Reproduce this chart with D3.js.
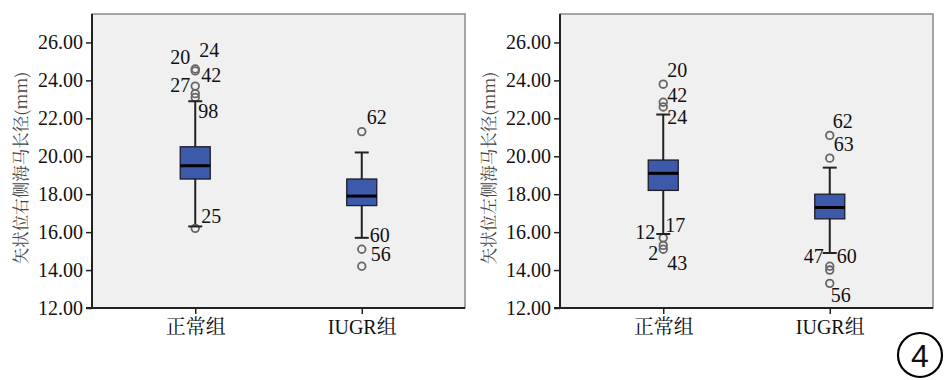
<!DOCTYPE html>
<html>
<head>
<meta charset="utf-8">
<script src="https://cdnjs.cloudflare.com/ajax/libs/d3/7.8.5/d3.min.js"></script>
<style>
  body { margin: 0; background: #fff; }
  svg text { fill: #111; }
</style>
</head>
<body>
<script>
// categories and axis ticks
var groups = ["正常组", "IUGR组"];
var yTicks = [12, 14, 16, 18, 20, 22, 24, 26];

// left chart: right-side hippocampus
var rightLow = [16.3, 15.7];
var rightQ1 = [18.8, 17.4];
var rightMedian = [19.5, 17.9];
var rightQ3 = [20.5, 18.8];
var rightHigh = [22.9, 20.2];
var rightOutliers = [[24.6, 24.5, 23.7, 23.3, 23.1, 16.2], [21.3, 15.1, 14.2]];
var rightLabels = [
  [["20", 24.6], ["24", 24.6], ["42", 24.5], ["27", 23.7], ["98", 23.1], ["25", 16.2]],
  [["62", 21.3], ["60", 15.7], ["56", 15.1]]
];

// right chart: left-side hippocampus
var leftLow = [15.9, 14.9];
var leftQ1 = [18.2, 16.7];
var leftMedian = [19.1, 17.3];
var leftQ3 = [19.8, 18.0];
var leftHigh = [22.2, 19.4];
var leftOutliers = [[23.8, 22.85, 22.6, 15.7, 15.3, 15.1], [21.1, 19.9, 14.2, 14.0, 13.3]];
var leftLabels = [
  [["20", 23.8], ["42", 22.85], ["24", 22.6], ["12", 15.7], ["17", 15.7], ["2", 15.3], ["43", 15.1]],
  [["62", 21.1], ["63", 19.9], ["47", 14.9], ["60", 14.9], ["56", 13.3]]
];

// where the case numbers sit relative to their point (px)
var rightLabelOffsets = [
  [[-15, -12], [14, -19], [16, 4], [-15, -1], [13, 14], [16, -12]],
  [[15, -15], [18, -3], [19, 5]]
];
var leftLabelOffsets = [
  [[14, -14], [14, -7], [14, 10], [-18, -6], [12, -13], [-10, 8], [14, 14]],
  [[13, -14], [14, -14], [-16, 3], [17, 3], [11, 12]]
];

var svgWidth = 945, svgHeight = 380;
var plotWidth = 373, plotTop = 14, plotBottom = 308;

var svg = d3.select("body").append("svg")
  .attr("width", svgWidth)
  .attr("height", svgHeight);

var serif = "'Liberation Serif', 'Times New Roman', serif";
var cjkSerif = "'Liberation Serif', 'Noto Serif CJK SC', 'Noto Sans CJK SC', serif";

function drawPanel(left, title, low, q1, med, q3, high, outliers, labels, offsets) {
  var g = svg.append("g").attr("transform", `translate(${left}, 0)`);

  var x = d3.scalePoint().domain(groups).range([0, plotWidth]).padding(0.62);
  var y = d3.scaleLinear().domain([12, 27.5]).range([plotBottom, plotTop]);

  // panel background + light frame
  g.append("rect")
    .attr("x", 0).attr("y", plotTop)
    .attr("width", plotWidth).attr("height", plotBottom - plotTop)
    .attr("fill", "#f0f0f0")
    .attr("stroke", "#8a8a8a")
    .attr("stroke-width", 1.5);

  // axes
  var yAxis = g.append("g")
    .call(d3.axisLeft(y).tickValues(yTicks).tickSize(6).tickSizeOuter(0).tickPadding(3)
      .tickFormat(d3.format(".2f")));
  yAxis.select(".domain").attr("stroke", "#222").attr("stroke-width", 2)
    .attr("d", `M0,${plotTop}V${plotBottom}`);
  yAxis.selectAll(".tick line").attr("stroke", "#222").attr("stroke-width", 1.5);
  yAxis.selectAll(".tick text")
    .style("font-family", serif)
    .style("font-size", "20px").attr("fill", "#111");

  var xAxis = g.append("g")
    .attr("transform", `translate(0, ${plotBottom})`)
    .call(d3.axisBottom(x).tickSize(6).tickSizeOuter(0).tickPadding(6));
  xAxis.select(".domain").attr("stroke", "#222").attr("stroke-width", 2)
    .attr("d", `M-6,0H${plotWidth}`);
  xAxis.selectAll(".tick line").attr("stroke", "#222").attr("stroke-width", 1.5);
  xAxis.selectAll(".tick text")
    .style("font-family", cjkSerif)
    .style("font-size", "20px").attr("fill", "#222");

  // y title
  g.append("text")
    .attr("transform", `translate(${-71}, 168) rotate(-90)`)
    .attr("text-anchor", "middle")
    .attr("dy", "0.35em")
    .style("font-family", "'Noto Serif CJK SC', 'Noto Sans CJK SC', serif")
    .style("font-size", "16.5px")
    .style("fill", "#444")
    .text(title);

  var capHalf = 7, boxHalf = 15;

  groups.forEach(function(grp, i) {
    var cx = x(grp);

    // whisker
    g.append("line")
      .attr("x1", cx).attr("x2", cx)
      .attr("y1", y(high[i])).attr("y2", y(low[i]))
      .attr("stroke", "#222").attr("stroke-width", 2);

    // outlier circles
    g.selectAll(null)
      .data(outliers[i])
      .enter()
      .append("circle")
      .attr("cx", cx)
      .attr("cy", d => y(d))
      .attr("r", 3.8)
      .attr("fill", "none")
      .attr("stroke", "#666")
      .attr("stroke-width", 1.8);

    // caps
    [high[i], low[i]].forEach(function(v) {
      g.append("line")
        .attr("x1", cx - capHalf).attr("x2", cx + capHalf)
        .attr("y1", y(v)).attr("y2", y(v))
        .attr("stroke", "#222").attr("stroke-width", 2);
    });

    // box
    g.append("rect")
      .attr("x", cx - boxHalf)
      .attr("y", y(q3[i]))
      .attr("width", boxHalf * 2)
      .attr("height", y(q1[i]) - y(q3[i]))
      .attr("fill", "#3c5aa9")
      .attr("stroke", "#1c1c2a")
      .attr("stroke-width", 1.3);

    g.append("line")
      .attr("x1", cx - boxHalf).attr("x2", cx + boxHalf)
      .attr("y1", y(med[i])).attr("y2", y(med[i]))
      .attr("stroke", "#000").attr("stroke-width", 3);

    // case labels
    g.selectAll(null)
      .data(labels[i])
      .enter()
      .append("text")
      .attr("x", (d, j) => cx + offsets[i][j][0])
      .attr("y", (d, j) => y(d[1]) + offsets[i][j][1])
      .attr("text-anchor", "middle")
      .attr("dy", "0.35em")
      .style("font-family", serif)
      .style("font-size", "20px")
      .text(d => d[0]);
  });
}

drawPanel(92, "矢状位右侧海马长径(mm)", rightLow, rightQ1, rightMedian, rightQ3, rightHigh,
  rightOutliers, rightLabels, rightLabelOffsets);
drawPanel(560, "矢状位左侧海马长径(mm)", leftLow, leftQ1, leftMedian, leftQ3, leftHigh,
  leftOutliers, leftLabels, leftLabelOffsets);

// figure number
svg.append("circle")
  .attr("cx", 920).attr("cy", 355).attr("r", 22)
  .attr("fill", "none").attr("stroke", "#000").attr("stroke-width", 2.2);
svg.append("text")
  .attr("x", 920).attr("y", 355)
  .attr("text-anchor", "middle").attr("dy", "0.36em")
  .style("font-family", "'Liberation Sans', Arial, sans-serif")
  .style("font-size", "32px")
  .text("4");
</script>
</body>
</html>
